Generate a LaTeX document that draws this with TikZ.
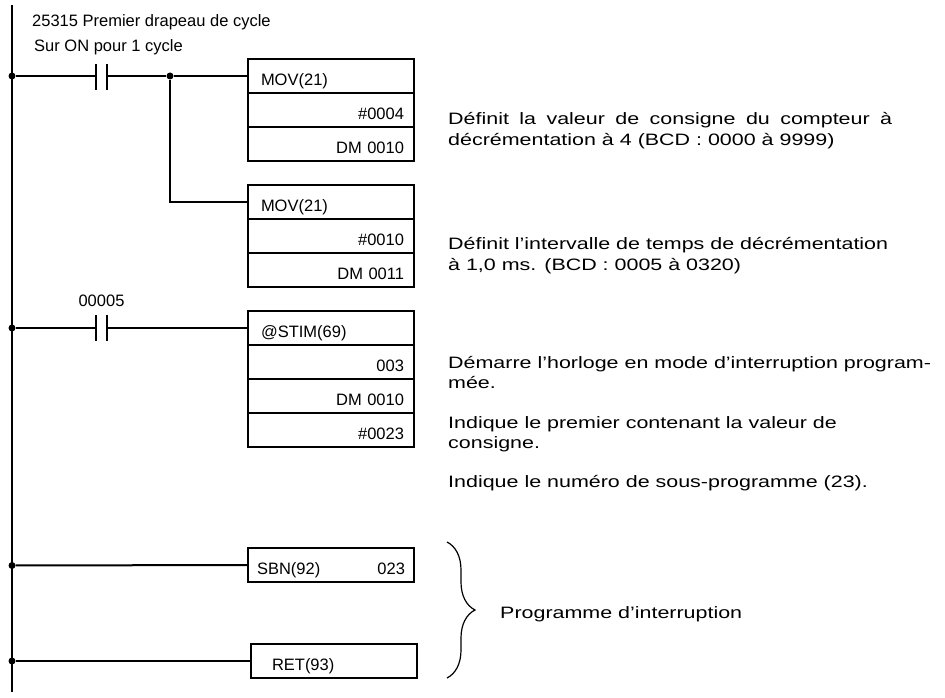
\documentclass[tikz,border=0pt]{standalone}
\usepackage{fontspec}
\setmainfont{Liberation Sans}
\newfontfamily\notefont[FakeStretch=1.3]{Liberation Sans}
\usetikzlibrary{positioning,decorations.pathreplacing}

\begin{document}
\begin{tikzpicture}[x=1pt,y=-1pt,
		wire/.style={line width=2pt},
		cell/.style={draw,line width=2.6pt,outer sep=0pt,minimum height=34pt,text height=19.5pt,text depth=0pt,inner ysep=2pt,font=\fontsize{16.5}{19}\selectfont},
		cellL/.style={cell,inner xsep=13pt,text width=140pt,align=left},
		cellR/.style={cell,inner xsep=10pt,text width=146pt,align=right},
		contact/.style={minimum width=11pt,minimum height=26pt,inner sep=0pt},
		tag/.style={inner sep=0pt,font=\fontsize{16.5}{19}\selectfont},
		note/.style={inner sep=0pt,anchor=base west,font=\notefont\fontsize{16.5}{20}\selectfont},
		dot/.style={circle,fill,inner sep=0pt,minimum size=7pt}]
	\useasboundingbox (0,0) rectangle (945,698);
	\coordinate (railtop) at (12,5);
	\coordinate (railbot) at (12,692);
	\draw[wire] (railtop) -- (railbot);
	\foreach \n/\y in {r1/76,r2/328,r3/565.5,r4/661} {
		\node[dot] (\n) at (12,\y) {};
	}
	\node[contact] (k1) at (101.5,77) {};
	\node[contact] (k2) at (101.5,328) {};
	\foreach \k in {k1,k2} {
		\draw[wire] (\k.north west) -- (\k.south west) (\k.north east) -- (\k.south east);
	}
	\node[dot] (j1) at (170,76) {};
	\node[cellL,anchor=north west] (mov1) at (248,59) {MOV(21)};
	\node[cellR,below=0pt of mov1] (mov1s) {\#0004};
	\node[cellR,below=0pt of mov1s] (mov1d) {DM 0010};
	\node[cellL,anchor=north west] (mov2) at (248,185) {MOV(21)};
	\node[cellR,below=0pt of mov2] (mov2s) {\#0010};
	\node[cellR,below=0pt of mov2s] (mov2d) {DM 0011};
	\node[cellL,anchor=north west] (stim) at (248,311) {@STIM(69)};
	\node[cellR,below=0pt of stim] (stimc) {003};
	\node[cellR,below=0pt of stimc] (stimd) {DM 0010};
	\node[cellR,below=0pt of stimd] (stims) {\#0023};
	\node[cell,anchor=north west,inner xsep=9pt,text width=148pt,align=left] (sbn) at (248,548) {SBN(92)\hfill 023};
	\node[cellL,anchor=north west,inner xsep=21pt,text width=124pt] (ret) at (251,644) {RET(93)};
	\draw[wire] (r1) -- (k1.west |- r1) (k1.east |- r1) -- (j1) -- (mov1.west);
	\draw[wire] (j1) |- (mov2.west);
	\draw[wire] (r2) -- (k2.west) (k2.east) -- (stim.west);
	\draw[wire] (r3) -- (sbn.west);
	\draw[wire] (r4) -- (ret.west);
	\node[tag,anchor=base west] (flag) at (32,27) {25315 Premier drapeau de cycle};
	\node[tag,anchor=base west] (flagon) at (34,52) {Sur ON pour 1 cycle};
	\node[tag,above=8pt of k2] (in5) {00005};
	\node[note] (n1a) at (448,125) {\makebox[444pt][s]{Définit la valeur de consigne du compteur à}};
	\foreach \n/\y/\t in {n1b/146/{décrémentation à 4 (BCD : 0000 à 9999)},
			n2a/249/{Définit l’intervalle de temps de décrémentation},
			n2b/270/{à 1,0 ms. (BCD : 0005 à 0320)},
			n3a/368/{Démarre l’horloge en mode d’interruption program-},
			n3b/388/{mée.},
			n4a/428/{Indique le premier contenant la valeur de},
			n4b/448/{consigne.},
			n5/487/{Indique le numéro de sous-programme (23).}} {
		\node[note] (\n) at (448,\y) {\t};
	}
	\coordinate (bt) at (447,542);
	\coordinate (bb) at (447,678);
	\draw[line width=1.2pt,decorate,decoration={brace,amplitude=28pt}] (bt) -- (bb);
	\node[note] (prog) at (500,618) {Programme d’interruption};
\end{tikzpicture}
\end{document}
